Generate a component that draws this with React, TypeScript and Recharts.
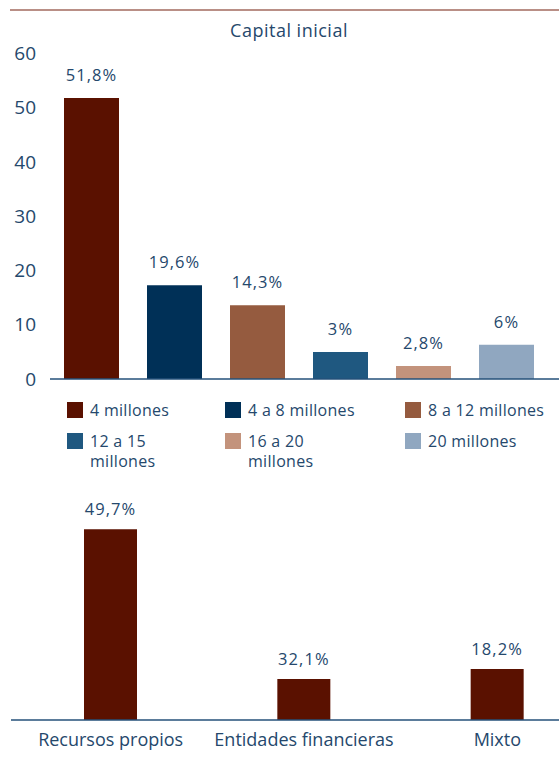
import { BarChart, Bar, XAxis, YAxis, Cell, LabelList } from "recharts";

// capital inicial
const capitalCategories = [
  "4 millones",
  "4 a 8 millones",
  "8 a 12 millones",
  "12 a 15 millones",
  "16 a 20 millones",
  "20 millones",
];
const capitalBarValues = [51.8, 17.3, 13.6, 5.0, 2.4, 6.3];
const capitalLabels = ["51,8%", "19,6%", "14,3%", "3%", "2,8%", "6%"];
const capitalTicks = [0, 10, 20, 30, 40, 50, 60];

// fuentes de financiación
const sourceCategories = ["Recursos propios", "Entidades financieras", "Mixto"];
const sourceBarValues = [49.7, 10.7, 13.3];
const sourceLabels = ["49,7%", "32,1%", "18,2%"];

const capitalColors = ["#5a1100", "#003057", "#955b3f", "#1f5880", "#c3937c", "#90a7c0"];
const MAROON = "#5a1100";
const TEXT = "#25486c";
const AXIS = "#24507a";
const FONT = "'Open Sans', sans-serif";

const capitalData = capitalCategories.map((name, i) => ({
  name,
  value: capitalBarValues[i],
  label: capitalLabels[i],
}));

const sourceData = sourceCategories.map((name, i) => ({
  name,
  value: sourceBarValues[i],
  label: sourceLabels[i],
}));

const legendCols = [67, 225, 405];
const legendRows = [402, 433];

export default function App() {
  return (
    <div
      style={{
        position: "absolute",
        left: 0,
        top: 0,
        width: 559,
        height: 769,
        overflow: "hidden",
        background: "#fff",
        fontFamily: FONT,
        color: TEXT,
      }}
    >
      <style>{`
        .recharts-label-list text { letter-spacing: 1.1px; }
        .recharts-yAxis .recharts-cartesian-axis-tick text { letter-spacing: 0.8px; }
        .recharts-xAxis .recharts-cartesian-axis-tick text { letter-spacing: 0.1px; }
      `}</style>
      <div
        style={{
          position: "absolute",
          left: 10,
          top: 9,
          width: 549,
          height: 2,
          background: "#b98f86",
        }}
      />
      <div
        style={{
          position: "absolute",
          left: 0,
          width: 578,
          top: 18,
          textAlign: "center",
          fontSize: 18,
          letterSpacing: 0.5,
        }}
      >
        Capital inicial
      </div>

      <div style={{ position: "absolute", left: 0, top: 0 }}>
        <BarChart
          width={559}
          height={480}
          data={capitalData}
          margin={{ top: 53.5, right: 0, bottom: 100, left: 0 }}
        >
          <YAxis
            width={50}
            domain={[0, 60]}
            ticks={capitalTicks}
            axisLine={false}
            tickLine={false}
            tickSize={6}
            tickMargin={8}
            tick={{ fill: TEXT, fontSize: 19, fontFamily: FONT }}
          />
          <XAxis
            dataKey="name"
            height={1}
            tick={false}
            tickLine={false}
            padding={{ left: 0, right: 11 }}
            axisLine={{ stroke: AXIS, strokeWidth: 1.5 }}
          />
          <Bar dataKey="value" barSize={55} isAnimationActive={false}>
            {capitalData.map((d, i) => (
              <Cell key={d.name} fill={capitalColors[i]} />
            ))}
            <LabelList
              dataKey="label"
              position="top"
              offset={17}
              fill={TEXT}
              fontSize={16.5}
              fontFamily={FONT}
            />
          </Bar>
        </BarChart>
      </div>

      {capitalCategories.map((name, i) => (
        <div
          key={name}
          style={{
            position: "absolute",
            left: legendCols[i % 3],
            top: legendRows[Math.floor(i / 3)],
            display: "flex",
            alignItems: "flex-start",
          }}
        >
          <div
            style={{
              width: 16,
              height: 16,
              background: capitalColors[i],
              flex: "none",
            }}
          />
          <div
            style={{
              marginLeft: 7,
              marginTop: -2,
              width: 122,
              fontSize: 16,
              lineHeight: "20px",
              letterSpacing: 0.3,
            }}
          >
            {name}
          </div>
        </div>
      ))}

      <div style={{ position: "absolute", left: 0, top: 480 }}>
        <BarChart
          width={600}
          height={289}
          data={sourceData}
          margin={{ top: 48, right: 6, bottom: 0, left: 11 }}
        >
          <YAxis hide domain={[0, 50]} />
          <XAxis
            dataKey="name"
            height={49}
            padding={{ left: 3, right: 0 }}
            tickLine={false}
            tickSize={6}
            tickMargin={7}
            interval={0}
            axisLine={{ stroke: AXIS, strokeWidth: 1.5 }}
            tick={{ fill: TEXT, fontSize: 18, fontFamily: FONT }}
          />
          <Bar dataKey="value" fill={MAROON} barSize={53} isAnimationActive={false}>
            <LabelList
              dataKey="label"
              position="top"
              offset={14}
              fill={TEXT}
              fontSize={16.5}
              fontFamily={FONT}
            />
          </Bar>
        </BarChart>
      </div>
    </div>
  );
}
